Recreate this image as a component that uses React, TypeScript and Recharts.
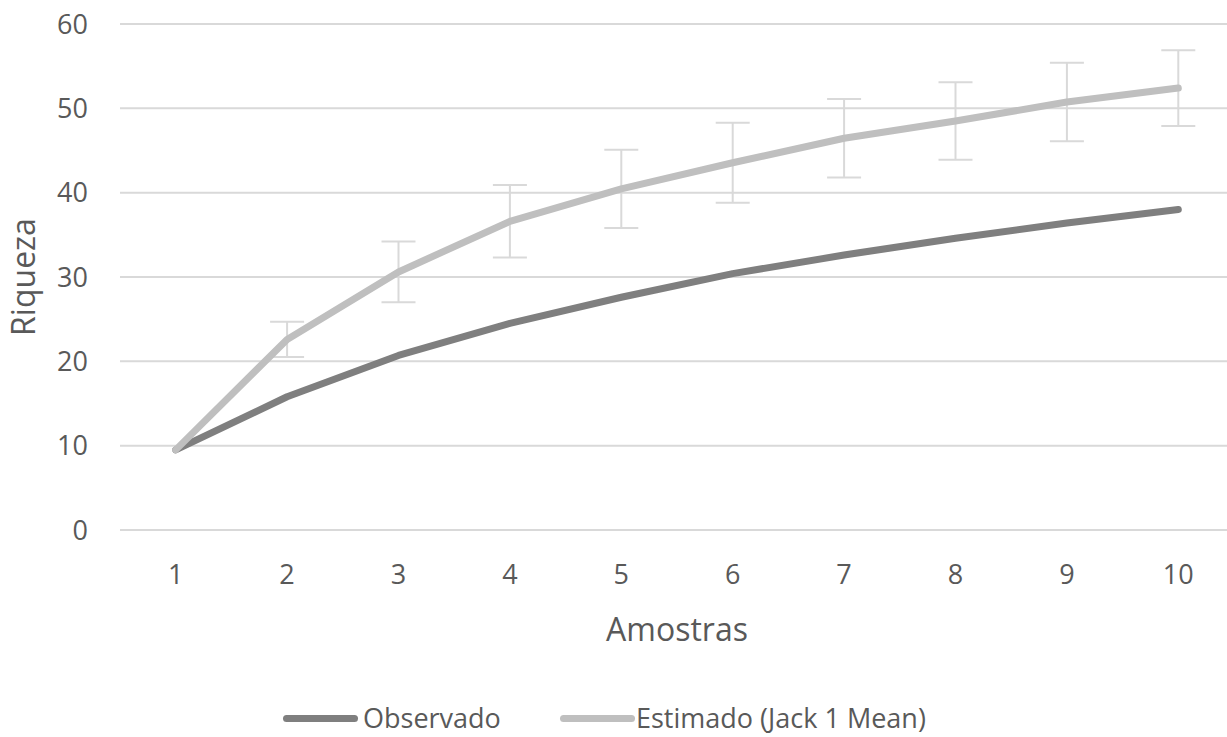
import * as React from "react";
import {
  LineChart,
  Line,
  XAxis,
  YAxis,
  CartesianGrid,
  Legend,
  ErrorBar
} from "recharts";

const amostras = [1, 2, 3, 4, 5, 6, 7, 8, 9, 10];
const observado = [9.5, 15.8, 20.7, 24.5, 27.6, 30.4, 32.6, 34.6, 36.4, 38.0];
const estimado = [9.5, 22.6, 30.6, 36.6, 40.45, 43.55, 46.45, 48.5, 50.75, 52.4];
const erro = [0, 2.1, 3.6, 4.3, 4.65, 4.75, 4.65, 4.6, 4.65, 4.5];
const yTicks = [0, 10, 20, 30, 40, 50, 60];

const font = '"Open Sans", sans-serif';
const textColor = "#595959";
const darkGray = "#7f7f7f";
const lightGray = "#bfbfbf";
const gridColor = "#d9d9d9";

const data = amostras.map((a, i) => ({
  amostra: a,
  observado: observado[i],
  estimado: estimado[i],
  erro: erro[i]
}));

const LegendBox = () => {
  const swatch = (color: string): React.CSSProperties => ({
    position: "absolute",
    width: 75,
    height: 7,
    borderRadius: 4,
    background: color,
    top: 12
  });
  const label: React.CSSProperties = {
    position: "absolute",
    top: 0,
    fontFamily: font,
    fontSize: 27,
    lineHeight: "30px",
    color: textColor,
    whiteSpace: "nowrap"
  };
  return (
    <div style={{ position: "relative", height: 30, width: 1227 }}>
      <div style={{ ...swatch(darkGray), left: 283 }} />
      <span style={{ ...label, left: 363 }}>Observado</span>
      <div style={{ ...swatch(lightGray), left: 560 }} />
      <span style={{ ...label, left: 636 }}>Estimado (Jack 1 Mean)</span>
    </div>
  );
};

const App: React.FunctionComponent = () => {
  const tickStyle = { fill: textColor, fontSize: 27, fontFamily: font };

  return (
    <div
      style={{
        position: "absolute",
        left: 0,
        top: 0,
        width: 1227,
        height: 737,
        overflow: "hidden",
        background: "#fff"
      }}
    >
      <LineChart
        width={1240}
        height={737}
        data={data}
        margin={{ top: 24, right: 6, left: 0, bottom: 4 }}
      >
        <CartesianGrid
          vertical={false}
          stroke={gridColor}
          strokeWidth={2}
        />
        <XAxis
          dataKey="amostra"
          type="category"
          height={173}
          padding={{ left: 55.7, right: 55.7 }}
          axisLine={false}
          tickLine={false}
          tickSize={0}
          tickMargin={35}
          tick={tickStyle}
          label={{
            content: (props: any) => {
              const vb = props.viewBox;
              return (
                <text
                  x={vb.x + vb.width / 2}
                  y={vb.y + 98}
                  textAnchor="middle"
                  dominantBaseline="central"
                  fill={textColor}
                  fontSize={32}
                  fontFamily={font}
                >
                  Amostras
                </text>
              );
            }
          }}
        />
        <YAxis
          width={120}
          domain={[0, 60]}
          ticks={yTicks}
          axisLine={false}
          tickLine={false}
          tickSize={0}
          tickMargin={32}
          tick={tickStyle}
          label={{
            content: (props: any) => {
              const vb = props.viewBox;
              const cy = vb.y + vb.height / 2;
              return (
                <text
                  x={22}
                  y={cy}
                  transform={`rotate(-90, 22, ${cy})`}
                  textAnchor="middle"
                  dominantBaseline="central"
                  fill={textColor}
                  fontSize={32}
                  fontFamily={font}
                >
                  Riqueza
                </text>
              );
            }
          }}
        />
        <Legend verticalAlign="bottom" content={() => <LegendBox />} />
        <Line
          isAnimationActive={false}
          dataKey="estimado"
          stroke="none"
          dot={false}
          activeDot={false}
          legendType="none"
        >
          <ErrorBar
            dataKey="erro"
            width={17}
            stroke={gridColor}
            strokeWidth={2}
            direction="y"
            isAnimationActive={false}
          />
        </Line>
        <Line
          isAnimationActive={false}
          type="linear"
          dataKey="observado"
          stroke={darkGray}
          strokeWidth={7}
          strokeLinecap="round"
          strokeLinejoin="round"
          dot={false}
          activeDot={false}
        />
        <Line
          isAnimationActive={false}
          type="linear"
          dataKey="estimado"
          stroke={lightGray}
          strokeWidth={7}
          strokeLinecap="round"
          strokeLinejoin="round"
          dot={false}
          activeDot={false}
        />
      </LineChart>
    </div>
  );
};

export default App;
